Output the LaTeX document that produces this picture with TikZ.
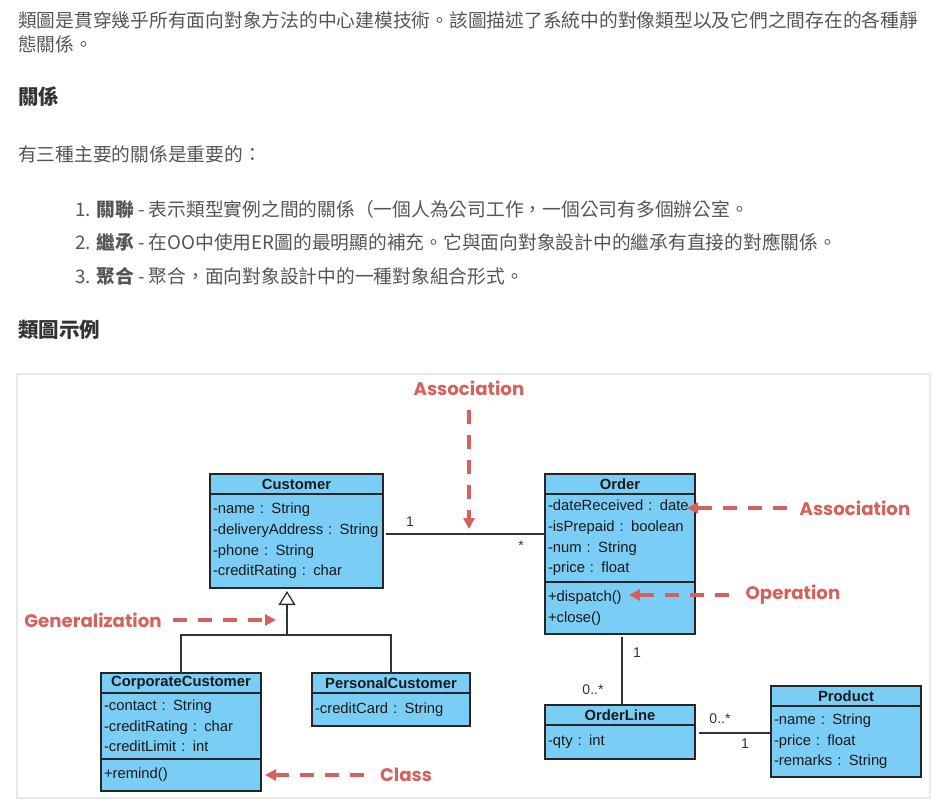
\documentclass[tikz,border=0pt]{standalone}
\usepackage{fontspec}
\setmainfont{Liberation Sans}
\newfontfamily\cjk{Noto Sans CJK TC}
\newfontfamily\callout{Poppins}
\usetikzlibrary{arrows.meta,positioning}
\definecolor{clsblue}{RGB}{122,206,245}
\definecolor{calloutred}{RGB}{214,96,91}
\definecolor{bodygray}{RGB}{85,85,85}
\definecolor{headgray}{RGB}{51,51,51}
\definecolor{framegray}{RGB}{232,232,232}

\begin{document}
\begin{tikzpicture}[
        x                       = 1pt,
        y                       = -1pt,
        txt/.style              = {anchor=west, inner sep=0pt, text=bodygray, font=\cjk\fontsize{18.75}{24}\selectfont},
        head/.style             = {anchor=west, inner sep=0pt, text=headgray, font=\cjk\bfseries\fontsize{20.5}{24}\selectfont},
        clshead/.style          = {draw=black!85, fill=clsblue, line width=1.2pt, inner sep=0pt, outer sep=0pt, text=black!90, font=\bfseries\fontsize{14.8}{16}\selectfont},
        clsbody/.style          = {draw=black!85, fill=clsblue, line width=1.2pt, inner xsep=3pt, inner ysep=0pt, outer sep=0pt, align=left, text=black!90, font=\fontsize{14.8}{20.6}\selectfont},
        mult/.style             = {inner sep=0pt, text=black!80, font=\fontsize{14}{16}\selectfont},
        callout/.style          = {inner sep=0pt, text=calloutred, font=\callout\bfseries\fontsize{18.2}{21}\selectfont},
        pointer/.style          = {draw=calloutred, line width=3.5pt, dash pattern=on 14pt off 11pt, -{Triangle[length=11pt,width=11pt]}},
        link/.style             = {draw=black!80, line width=1.3pt},
      ]
        \useasboundingbox (0,0) rectangle (938,807);

        % intro text
        \node[txt] (p1a) at (18,20) {類圖是貫穿幾乎所有面向對象方法的中心建模技術。該圖描述了系統中的對像類型以及它們之間存在的各種靜};
        \node[txt] (p1b) at (18,44) {態關係。};
        \node[head] (h1) at (18,97) {關係};
        \node[txt] (p2) at (18,154) {有三種主要的關係是重要的：};
        \node[txt] (li1) at (75,209) {1. {\bfseries 關聯} - 表示類型實例之間的關係（一個人為公司工作，一個公司有多個辦公室。};
        \node[txt] (li2) at (75,242) {2. {\bfseries 繼承} - 在OO中使用ER圖的最明顯的補充。它與面向對象設計中的繼承有直接的對應關係。};
        \node[txt] (li3) at (75,276) {3. {\bfseries 聚合} - 聚合，面向對象設計中的一種對象組合形式。};
        \node[head] (h2) at (18,330) {類圖示例};

        % diagram frame
        \draw[framegray, line width=1.2pt] (17,374) rectangle (930,798);

        % classes
        \node[clshead, minimum width=173pt, minimum height=20pt] (custH) at (296.5,484) {Customer};
        \node[clsbody, below=0pt of custH, text width=167pt, minimum height=94pt] (custA) {-name : String\\-deliveryAddress : String\\-phone : String\\-creditRating : char};

        \node[clshead, minimum width=150pt, minimum height=20pt] (ordH) at (620,484) {Order};
        \node[clsbody, below=0pt of ordH, text width=144pt, minimum height=88pt] (ordA) {-dateReceived : date\\-isPrepaid : boolean\\-num : String\\-price : float};
        \node[clsbody, below=0pt of ordA, text width=144pt, minimum height=52pt] (ordO) {+dispatch()\\+close()};

        \node[clshead, minimum width=160pt, minimum height=20pt] (corpH) at (181,683) {CorporateCustomer};
        \node[clsbody, below=0pt of corpH, text width=154pt, minimum height=66pt] (corpA) {-contact : String\\-creditRating : char\\-creditLimit : int};
        \node[clsbody, below=0pt of corpA, text width=154pt, minimum height=32pt] (corpO) {+remind()};

        \node[clshead, minimum width=158pt, minimum height=20pt] (persH) at (391,683) {PersonalCustomer};
        \node[clsbody, below=0pt of persH, text width=152pt, minimum height=33pt] (persA) {-creditCard : String};

        \node[clshead, minimum width=150pt, minimum height=20pt] (olH) at (620,715) {OrderLine};
        \node[clsbody, below=0pt of olH, text width=144pt, minimum height=34pt] (olA) {-qty : int};

        \node[clshead, minimum width=150pt, minimum height=20pt] (prH) at (846,696) {Product};
        \node[clsbody, below=0pt of prH, text width=144pt, minimum height=71pt] (prA) {-name : String\\-price : float\\-remarks : String};

        % relations
        \draw[link] ([xshift=3pt,yshift=7pt]custA.east) -- ([yshift=4pt]ordA.west);
        \node[mult] (mCust) at (410,522) {1};
        \node[mult] (mOrd) at (521,546) {*};

        \coordinate (join) at (287,635);
        \draw[link] (corpH.north) |- (join) -| (persH.north);
        \draw[link, -{Triangle[length=14pt,width=17pt,fill=white]}, shorten >=3pt] (join) -- (join |- custA.south);

        \draw[link, shorten <=3pt] ([xshift=2pt]ordO.south) -- ([xshift=2pt]olH.north);
        \node[mult] (mOrdTop) at (637,653) {1};
        \node[mult] (mOlTop) at (593,690) {0..*};

        \draw[link] ([xshift=4pt,yshift=9pt]olA.east) -- ([yshift=8.5pt]prA.west);
        \node[mult] (mOlRight) at (720,719) {0..*};
        \node[mult] (mPr) at (745,744) {1};

        % callouts
        \node[callout] (calAssoc) at (469,388) {Association};
        \node[callout] (calDate) at (855,508) {Association};
        \node[callout] (calOp) at (793,595) {Operation};
        \node[callout] (calGen) at (93,620) {Generalization};
        \node[callout] (calClass) at (406,775) {Class};

        \coordinate (assocTip) at (469,529);
        \coordinate (dateTip) at (687,508);
        \coordinate (opTip) at (629,595);
        \draw[pointer, shorten <=14pt] (calAssoc.south) -- (assocTip);
        \draw[pointer, shorten <=12pt] (calDate.west) -- (dateTip);
        \draw[pointer, shorten <=16pt] (calOp.west) -- (opTip);
        \draw[pointer, shorten <=11pt, shorten >=11pt] (calGen.east) -- (calGen.east -| join);
        \draw[pointer, shorten <=16pt, shorten >=4pt] (calClass.west) -- (corpO.east);
    \end{tikzpicture}
\end{document}
